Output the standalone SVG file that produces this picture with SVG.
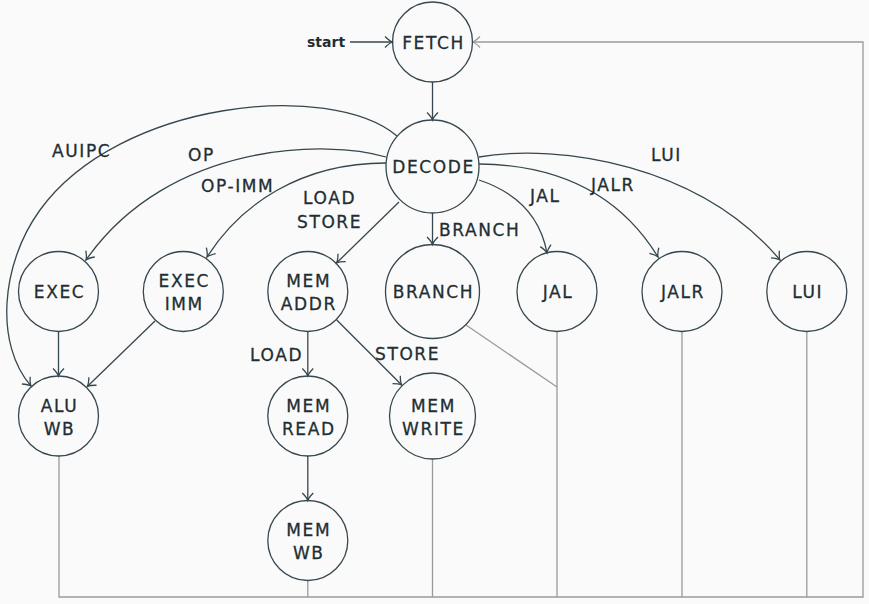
<svg xmlns="http://www.w3.org/2000/svg" width="869" height="604" viewBox="0 0 869 604">
<style>
.node circle{fill:none;stroke:#37474f;stroke-width:1.3}
.node text,.lbl{font-family:"DejaVu Sans",sans-serif;font-size:17px;fill:#1f2e33;stroke:#1f2e33;stroke-width:0.3;letter-spacing:1.6px;text-anchor:middle}
.lbl{text-anchor:start}
.e{fill:none;stroke:#37474f;stroke-width:1.3}
.r{fill:none;stroke:#9a9a9a;stroke-width:1.3}
</style>
<defs>
<marker id="a" markerUnits="userSpaceOnUse" markerWidth="14" markerHeight="14" viewBox="-9 -7 10 14" refX="0" refY="0" orient="auto">
<path d="M-7.5,-5.5 C-4,-2 -1.5,-0.5 0,0 C-1.5,0.5 -4,2 -7.5,5.5" fill="none" stroke="#37474f" stroke-width="1.3"/>
</marker>
<marker id="g" markerUnits="userSpaceOnUse" markerWidth="14" markerHeight="14" viewBox="-9 -7 10 14" refX="0" refY="0" orient="auto">
<path d="M-7.5,-5.5 C-4,-2 -1.5,-0.5 0,0 C-1.5,0.5 -4,2 -7.5,5.5" fill="none" stroke="#9a9a9a" stroke-width="1.3"/>
</marker>
</defs>
<rect width="869" height="604" fill="#fafafa"/>
<g id="connectors">
<path class="r" d="M59,456 V597 H863 V42 H472.5" marker-end="url(#g)"/>
<path class="r" d="M307.8,580.5 V597"/>
<path class="r" d="M432.5,459 V597"/>
<path class="r" d="M557,331.5 V597"/>
<path class="r" d="M682,331.5 V597"/>
<path class="r" d="M806.8,331.5 V597"/>
<path class="r" d="M466,325 L557,387"/>
<path class="e" d="M350,42 H392.5" marker-end="url(#a)"/>
<path class="e" d="M432.5,82 V120" marker-end="url(#a)"/>
<path class="e" d="M432.5,213 V244.5" marker-end="url(#a)"/>
<path class="e" d="M397,136 C330,80 120,100 40,210 C0,265 -5,345 31,386" marker-end="url(#a)"/>
<path class="e" d="M386,157 C330,140 170,140 86,260" marker-end="url(#a)"/>
<path class="e" d="M386,163 C300,163 240,205 207,257" marker-end="url(#a)"/>
<path class="e" d="M399,202 L336.5,263" marker-end="url(#a)"/>
<path class="e" d="M479,180 C515,192 540,215 547,253" marker-end="url(#a)"/>
<path class="e" d="M479,164 C560,165 620,195 658,257" marker-end="url(#a)"/>
<path class="e" d="M479,157 C560,143 700,165 780,260" marker-end="url(#a)"/>
<path class="e" d="M58.5,331.5 V376" marker-end="url(#a)"/>
<path class="e" d="M155,321 L87.3,386.5" marker-end="url(#a)"/>
<path class="e" d="M307.8,331.5 V376" marker-end="url(#a)"/>
<path class="e" d="M336.7,320 L401.7,385" marker-end="url(#a)"/>
<path class="e" d="M307.8,456 V500.5" marker-end="url(#a)"/>
<text x="307" y="47" style="font-family:'DejaVu Sans',sans-serif;font-size:14px;font-weight:bold;fill:#1f2e33">start</text>
<text class="lbl" x="52" y="157">AUIPC</text>
<text class="lbl" x="188" y="161">OP</text>
<text class="lbl" x="201" y="191.5">OP-IMM</text>
<text class="lbl" x="303" y="204">LOAD</text>
<text class="lbl" x="297" y="227.5">STORE</text>
<text class="lbl" x="439" y="236">BRANCH</text>
<text class="lbl" x="530" y="201.5">JAL</text>
<text class="lbl" x="591" y="191">JALR</text>
<text class="lbl" x="651" y="161">LUI</text>
<text class="lbl" x="250" y="360.5">LOAD</text>
<text class="lbl" x="375" y="359.5">STORE</text>
</g>
<g id="FETCH" class="node"><circle cx="432.5" cy="42" r="40"/><text x="433.5" y="48.5">FETCH</text></g>
<g id="DECODE" class="node"><circle cx="432.5" cy="166.5" r="46.5"/><text x="433.5" y="173">DECODE</text></g>
<g id="EXEC" class="node"><circle cx="58.5" cy="291.5" r="40"/><text x="59.5" y="298">EXEC</text></g>
<g id="EXEC_IMM" class="node"><circle cx="183.3" cy="291.5" r="40"/><text x="184.3" y="287">EXEC</text><text x="184.3" y="310">IMM</text></g>
<g id="MEM_ADDR" class="node"><circle cx="307.8" cy="291.5" r="40"/><text x="308.8" y="287">MEM</text><text x="308.8" y="310">ADDR</text></g>
<g id="BRANCH" class="node"><circle cx="432.5" cy="291.5" r="47"/><text x="433.5" y="298">BRANCH</text></g>
<g id="JAL" class="node"><circle cx="557" cy="291.5" r="40"/><text x="558" y="298">JAL</text></g>
<g id="JALR" class="node"><circle cx="682" cy="291.5" r="40"/><text x="683" y="298">JALR</text></g>
<g id="LUI" class="node"><circle cx="806.8" cy="291.5" r="40"/><text x="807.8" y="298">LUI</text></g>
<g id="ALU_WB" class="node"><circle cx="58.5" cy="416" r="40"/><text x="59.5" y="411.5">ALU</text><text x="59.5" y="434.5">WB</text></g>
<g id="MEM_READ" class="node"><circle cx="307.8" cy="416" r="40"/><text x="308.8" y="411.5">MEM</text><text x="308.8" y="434.5">READ</text></g>
<g id="MEM_WRITE" class="node"><circle cx="432.5" cy="416" r="43"/><text x="433.5" y="411.5">MEM</text><text x="433.5" y="434.5">WRITE</text></g>
<g id="MEM_WB" class="node"><circle cx="307.8" cy="540.5" r="40"/><text x="308.8" y="536">MEM</text><text x="308.8" y="559">WB</text></g>
</svg>
